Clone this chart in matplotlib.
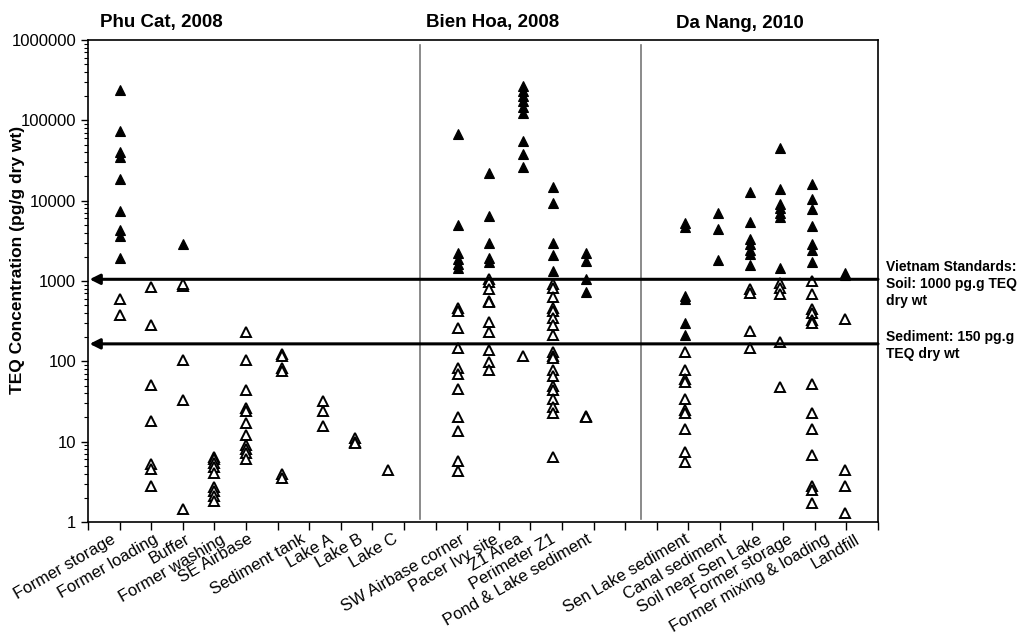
import matplotlib
matplotlib.use("Agg")
import matplotlib.pyplot as plt
from matplotlib.ticker import LogLocator, FuncFormatter, NullFormatter

plt.rcParams["font.family"] = ["Liberation Sans", "DejaVu Sans"]

# ---------------------------------------------------------------------------
# Data (TEQ, pg/g dry wt) -- filled = solid triangles, open = hollow triangles
# ---------------------------------------------------------------------------
PHU_CAT_LABELS = ["Former storage", "Former loading", "Buffer", "Former washing",
                  "SE Airbase", "Sediment tank", "Lake A", "Lake B", "Lake C"]
PHU_CAT_X = [1.0, 2.0, 3.0, 4.0, 5.0, 6.15, 7.45, 8.45, 9.5]
PHU_CAT_FILLED = [
    [240000, 74000, 40000, 35000, 18400, 7400, 4300, 3600, 1950],
    [],
    [2850],
    [], [], [], [], [], [],
]
PHU_CAT_OPEN = [
    [600, 380],
    [850, 280, 51, 18, 5.3, 4.6, 2.8],
    [860, 920, 105, 33, 1.45],
    [6.5, 6.1, 5.5, 4.8, 4.1, 2.7, 2.4, 2.1, 1.8],
    [230, 105, 44, 26, 24, 17, 12, 9, 8, 7.3, 6],
    [125, 118, 82, 75, 4.0, 3.5],
    [32, 24, 15.5],
    [11, 10, 9.5],
    [4.4],
]

BIEN_HOA_LABELS = ["SW Airbase corner", "Pacer Ivy site", "Z1 Area",
                   "Perimeter Z1", "Pond & Lake sediment"]
BIEN_HOA_X = [11.7, 12.7, 13.75, 14.7, 15.75]
BIEN_HOA_FILLED = [
    [67000, 5000, 2200, 1900, 1650, 1450],
    [22400, 6400, 2950, 1950, 1700],
    [269000, 233000, 202000, 175000, 145000, 125000, 55000, 38000, 26600],
    [14900, 9300, 3000, 2100, 1330],
    [2200, 1750, 1050, 740],
]
BIEN_HOA_OPEN = [
    [460, 420, 260, 147, 83, 70, 45, 20, 13.5, 5.7, 4.3],
    [1050, 980, 800, 560, 540, 310, 230, 140, 97, 77],
    [118],
    [930, 820, 640, 460, 420, 350, 280, 215, 130, 118, 110, 77, 66, 50, 44,
     34, 27, 23, 6.5],
    [21, 20],
]

DA_NANG_LABELS = ["Sen Lake sediment", "Canal sediment", "Soil near Sen Lake",
                  "Former storage", "Former mixing & loading", "Landfill"]
DA_NANG_X = [18.9, 19.95, 20.95, 21.9, 22.9, 23.95]
DA_NANG_FILLED = [
    [5300, 4700, 650, 590, 300, 210],
    [7000, 4400, 1850],
    [13000, 5500, 3300, 2850, 2450, 2150, 1600],
    [45000, 14000, 9000, 8000, 7000, 6200, 1450],
    [16000, 10500, 7800, 4800, 2850, 2450, 1700],
    [1250, 1200],
]
DA_NANG_OPEN = [
    [130, 78, 60, 56, 34, 25, 23, 14.5, 7.5, 5.6],
    [],
    [800, 700, 240, 145],
    [950, 820, 680, 175, 48],
    [1000, 680, 450, 400, 330, 300, 52, 23, 14.5, 6.8, 2.8, 2.5, 1.7],
    [340, 4.5, 2.8, 1.3],
]

SITE_TITLES = ["Phu Cat, 2008", "Bien Hoa, 2008", "Da Nang, 2010"]
SITE_SEPARATORS = [10.5, 17.5]
SOIL_STD = 1050
SEDIMENT_STD = 165

# where each rotated category label ends (x, axis units)
PHU_CAT_LABEL_X = [0.7, 2.06, 3.07, 4.18, 5.06, 6.71, 7.6, 8.54, 9.65]
BIEN_HOA_LABEL_X = [11.77, 12.82, 13.61, 14.62, 15.76]
DA_NANG_LABEL_X = [18.89, 20.06, 21.17, 22.15, 23.32, 24.27]

# ---------------------------------------------------------------------------
W, H, DPI = 1019, 642, 100
fig = plt.figure(figsize=(W / DPI, H / DPI), dpi=DPI, facecolor="white")
ax = fig.add_axes([88 / W, 1 - 522 / H, 790 / W, 482 / H])

ax.set_yscale("log")
ax.set_ylim(1, 1e6)
ax.set_xlim(0, 25)

sites = [
    (PHU_CAT_LABELS, PHU_CAT_X, PHU_CAT_LABEL_X, PHU_CAT_FILLED, PHU_CAT_OPEN),
    (BIEN_HOA_LABELS, BIEN_HOA_X, BIEN_HOA_LABEL_X, BIEN_HOA_FILLED, BIEN_HOA_OPEN),
    (DA_NANG_LABELS, DA_NANG_X, DA_NANG_LABEL_X, DA_NANG_FILLED, DA_NANG_OPEN),
]

for labels, xs, lxs, filled, opened in sites:
    for x, fv, ov in zip(xs, filled, opened):
        if ov:
            ax.plot([x] * len(ov), ov, linestyle="none", marker="^",
                    markersize=7.5, markerfacecolor="white",
                    markeredgecolor="black", markeredgewidth=1.4, zorder=3)
        if fv:
            ax.plot([x] * len(fv), fv, linestyle="none", marker="^",
                    markersize=7.5, markerfacecolor="black",
                    markeredgecolor="black", markeredgewidth=0.8, zorder=4)
    for lx, lab in zip(lxs, labels):
        ax.text(lx, -0.02, lab, transform=ax.get_xaxis_transform(),
                rotation=30, rotation_mode="anchor", ha="right", va="top",
                fontsize=12, color="black")

# site separators
for xs in SITE_SEPARATORS:
    ax.axvline(xs, ymin=0.006, ymax=0.99, color="#777777", lw=1.2, zorder=2)

# standards arrows
for yv in (SOIL_STD, SEDIMENT_STD):
    ax.annotate("", xy=(0.002, yv), xytext=(1.0, yv),
                xycoords=("axes fraction", "data"),
                textcoords=("axes fraction", "data"),
                arrowprops=dict(arrowstyle="-|>,head_length=0.6,head_width=0.3",
                                lw=2.2, color="black", shrinkA=0, shrinkB=0),
                zorder=5)

# axes styling
ax.set_xticks(range(0, 26))
ax.set_xticklabels([])
ax.tick_params(axis="x", direction="out", length=6, width=1)
ax.yaxis.set_major_locator(LogLocator(base=10, numticks=10))
ax.yaxis.set_minor_locator(LogLocator(base=10, subs=range(2, 10), numticks=100))
ax.yaxis.set_major_formatter(FuncFormatter(lambda v, p: f"{int(round(v))}"))
ax.yaxis.set_minor_formatter(NullFormatter())
ax.tick_params(axis="y", which="major", direction="out", length=5, width=1,
               labelsize=12)
ax.tick_params(axis="y", which="minor", direction="out", length=3, width=0.8)
for sp in ax.spines.values():
    sp.set_linewidth(1.2)

# y label
fig.text(18 / W, 1 - 260 / H, "TEQ Concentration (pg/g dry wt)", rotation=90,
         ha="center", va="center", fontsize=12.5, fontweight="bold")

# site titles
for (tx, title) in zip([161, 493, 740], SITE_TITLES):
    fig.text(tx / W, 1 - 23 / H, title, ha="center", va="center",
             fontsize=13.5, fontweight="bold")

# standards text
fig.text(886 / W, 1 - 260 / H, "Vietnam Standards:\nSoil: 1000 pg.g TEQ\ndry wt",
         ha="left", va="top", fontsize=10, fontweight="bold", linespacing=1.25)
fig.text(886 / W, 1 - 330 / H, "Sediment: 150 pg.g\nTEQ dry wt",
         ha="left", va="top", fontsize=10, fontweight="bold", linespacing=1.25)

fig.savefig("out.png", dpi=DPI, facecolor="white")
